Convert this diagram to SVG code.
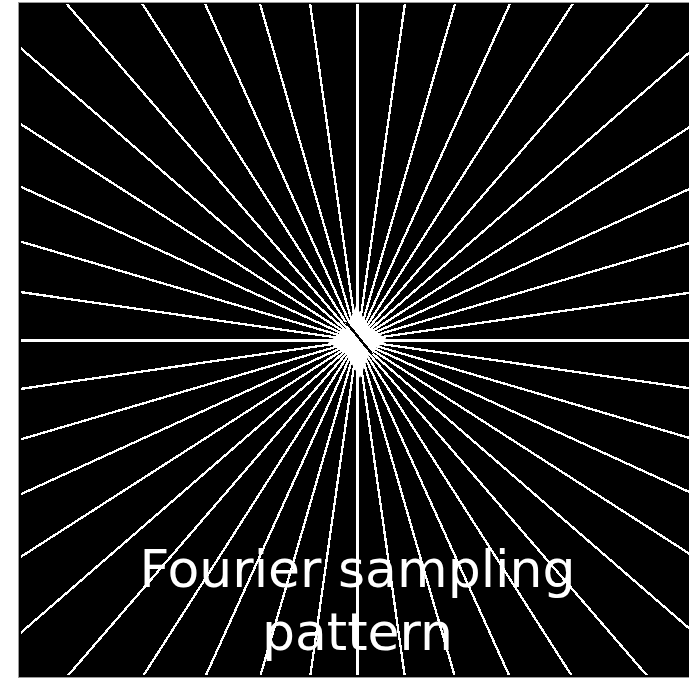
<svg xmlns="http://www.w3.org/2000/svg" width="689" height="681" viewBox="0 0 689 681">
  <style>
    .spoke { stroke: #ffffff; stroke-width: 2.3; shape-rendering: crispEdges; fill: none; }
    .label { font-family: "DejaVu Sans", "Liberation Sans", sans-serif; font-size: 52px; fill: #ffffff; text-anchor: middle; }
  </style>
  <defs>
    <clipPath id="frame">
      <rect x="21" y="4" width="668" height="671"/>
    </clipPath>
  </defs>
  <rect x="0" y="0" width="689" height="681" fill="#ffffff"/>
  <rect x="18.5" y="2.5" width="680" height="675" fill="#000000" stroke="#9a9a9a" stroke-width="1"/>
  <g id="spokes" clip-path="url(#frame)">
    <line class="spoke" x1="-442.5" y1="340.5" x2="1157.5" y2="340.5"/>
    <line class="spoke" x1="-434.4" y1="226.7" x2="1149.4" y2="454.3"/>
    <line class="spoke" x1="-410.2" y1="115.1" x2="1125.2" y2="565.9"/>
    <line class="spoke" x1="-370.3" y1="8.2" x2="1085.3" y2="672.8"/>
    <line class="spoke" x1="-315.4" y1="-91.9" x2="1030.4" y2="772.9"/>
    <line class="spoke" x1="-246.1" y1="-183.4" x2="961.1" y2="864.4"/>
    <line class="spoke" x1="-164.6" y1="-263.8" x2="879.6" y2="944.8"/>
    <line class="spoke" x1="-72.5" y1="-332.5" x2="787.5" y2="1013.5"/>
    <line class="spoke" x1="28.0" y1="-387.3" x2="687.0" y2="1068.3"/>
    <line class="spoke" x1="135.1" y1="-427.2" x2="579.9" y2="1108.2"/>
    <line class="spoke" x1="246.0" y1="-451.7" x2="469.0" y2="1132.7"/>
    <line class="spoke" x1="357.5" y1="-459.5" x2="357.5" y2="1140.5"/>
    <line class="spoke" x1="469.0" y1="-451.7" x2="246.0" y2="1132.7"/>
    <line class="spoke" x1="579.9" y1="-427.2" x2="135.1" y2="1108.2"/>
    <line class="spoke" x1="687.0" y1="-387.3" x2="28.0" y2="1068.3"/>
    <line class="spoke" x1="787.5" y1="-332.5" x2="-72.5" y2="1013.5"/>
    <line class="spoke" x1="879.6" y1="-263.8" x2="-164.6" y2="944.8"/>
    <line class="spoke" x1="961.1" y1="-183.4" x2="-246.1" y2="864.4"/>
    <line class="spoke" x1="1030.4" y1="-91.9" x2="-315.4" y2="772.9"/>
    <line class="spoke" x1="1085.3" y1="8.2" x2="-370.3" y2="672.8"/>
    <line class="spoke" x1="1125.2" y1="115.1" x2="-410.2" y2="565.9"/>
    <line class="spoke" x1="1149.4" y1="226.7" x2="-434.4" y2="454.3"/>
  </g>
  <g id="center">
    <path d="M356,306 L370,328 L388,340 L370,352 L360,378 L346,354 L328,342 L345,330 Z" fill="#ffffff"/>
    <path d="M346,322 L372,354" stroke="#000000" stroke-width="2.5" shape-rendering="crispEdges"/>
  </g>
  <g id="caption">
    <text class="label" x="357.5" y="587">Fourier sampling</text>
    <text class="label" x="357.5" y="650">pattern</text>
  </g>
</svg>
